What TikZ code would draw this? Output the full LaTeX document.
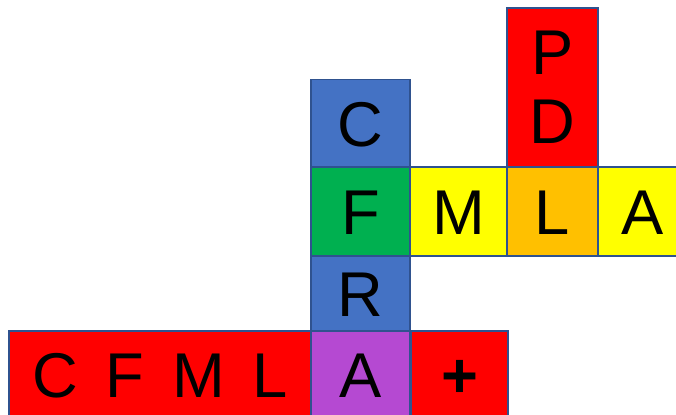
\documentclass[tikz,border=0pt]{standalone}
\usepackage{fontspec}
\setmainfont{Liberation Sans}
\usepackage{xcolor}
\usetikzlibrary{positioning}

\definecolor{edgeblue}{HTML}{2F528F}
\definecolor{tileblue}{HTML}{4472C4}
\definecolor{tilegreen}{HTML}{00B050}
\definecolor{tileyellow}{HTML}{FFFF00}
\definecolor{tileorange}{HTML}{FFC000}
\definecolor{tilered}{HTML}{FF0000}
\definecolor{tilepurple}{HTML}{B549D2}

\begin{document}
\begin{tikzpicture}[
  x=0.03cm, y=-0.03cm,
  tile/.style={draw=edgeblue,line width=1.3pt,inner sep=0pt,
    font=\fontsize{54}{59}\selectfont,text height=1.35cm,text depth=0pt,
    minimum width=2.97cm,minimum height=2.64cm},
  tall/.style={draw=edgeblue,line width=1.3pt,inner sep=0pt,align=center,
    font=\fontsize{54}{59}\selectfont,minimum width=2.73cm,minimum height=4.77cm}
]
\useasboundingbox (0,0) rectangle (676,414);
\clip (0,0) rectangle (676,414);

% vertical word
\node[tile,fill=tileblue] (c) at (360.5,123.5) {C};
\node[tile,fill=tilegreen,minimum height=2.67cm] (f) at (360.5,211.5) {F};
\node[tile,fill=tileblue,minimum height=2.25cm] (r) at (360.5,293.5) {R};
\node[tile,fill=tilepurple,minimum height=2.61cm] (a1) at (360.5,374.5) {A};

% horizontal word
\node[tile,fill=tileyellow,minimum width=2.91cm,minimum height=2.67cm] (m) at (458.5,211.5) {M};
\node[tile,fill=tileorange,minimum width=2.73cm,minimum height=2.67cm] (l) at (552.5,211.5) {L};
\node[tile,fill=tileyellow,minimum width=2.7cm,minimum height=2.67cm] (a2) at (643,211.5) {A};
\node[tall,fill=tilered] (pd) at (552.5,87.5) {P\\D};

% bottom row
\node[tile,fill=tilered,minimum width=9.06cm,minimum height=2.61cm] (cfml) at (160,374.5)
  {C\hspace{0.44em}F\hspace{0.44em}M\hspace{0.44em}L\hspace{12pt}};
\node[tile,fill=tilered,minimum width=2.91cm,minimum height=2.61cm] (plus) at (459.5,374.5) {\bfseries +};
\end{tikzpicture}
\end{document}
